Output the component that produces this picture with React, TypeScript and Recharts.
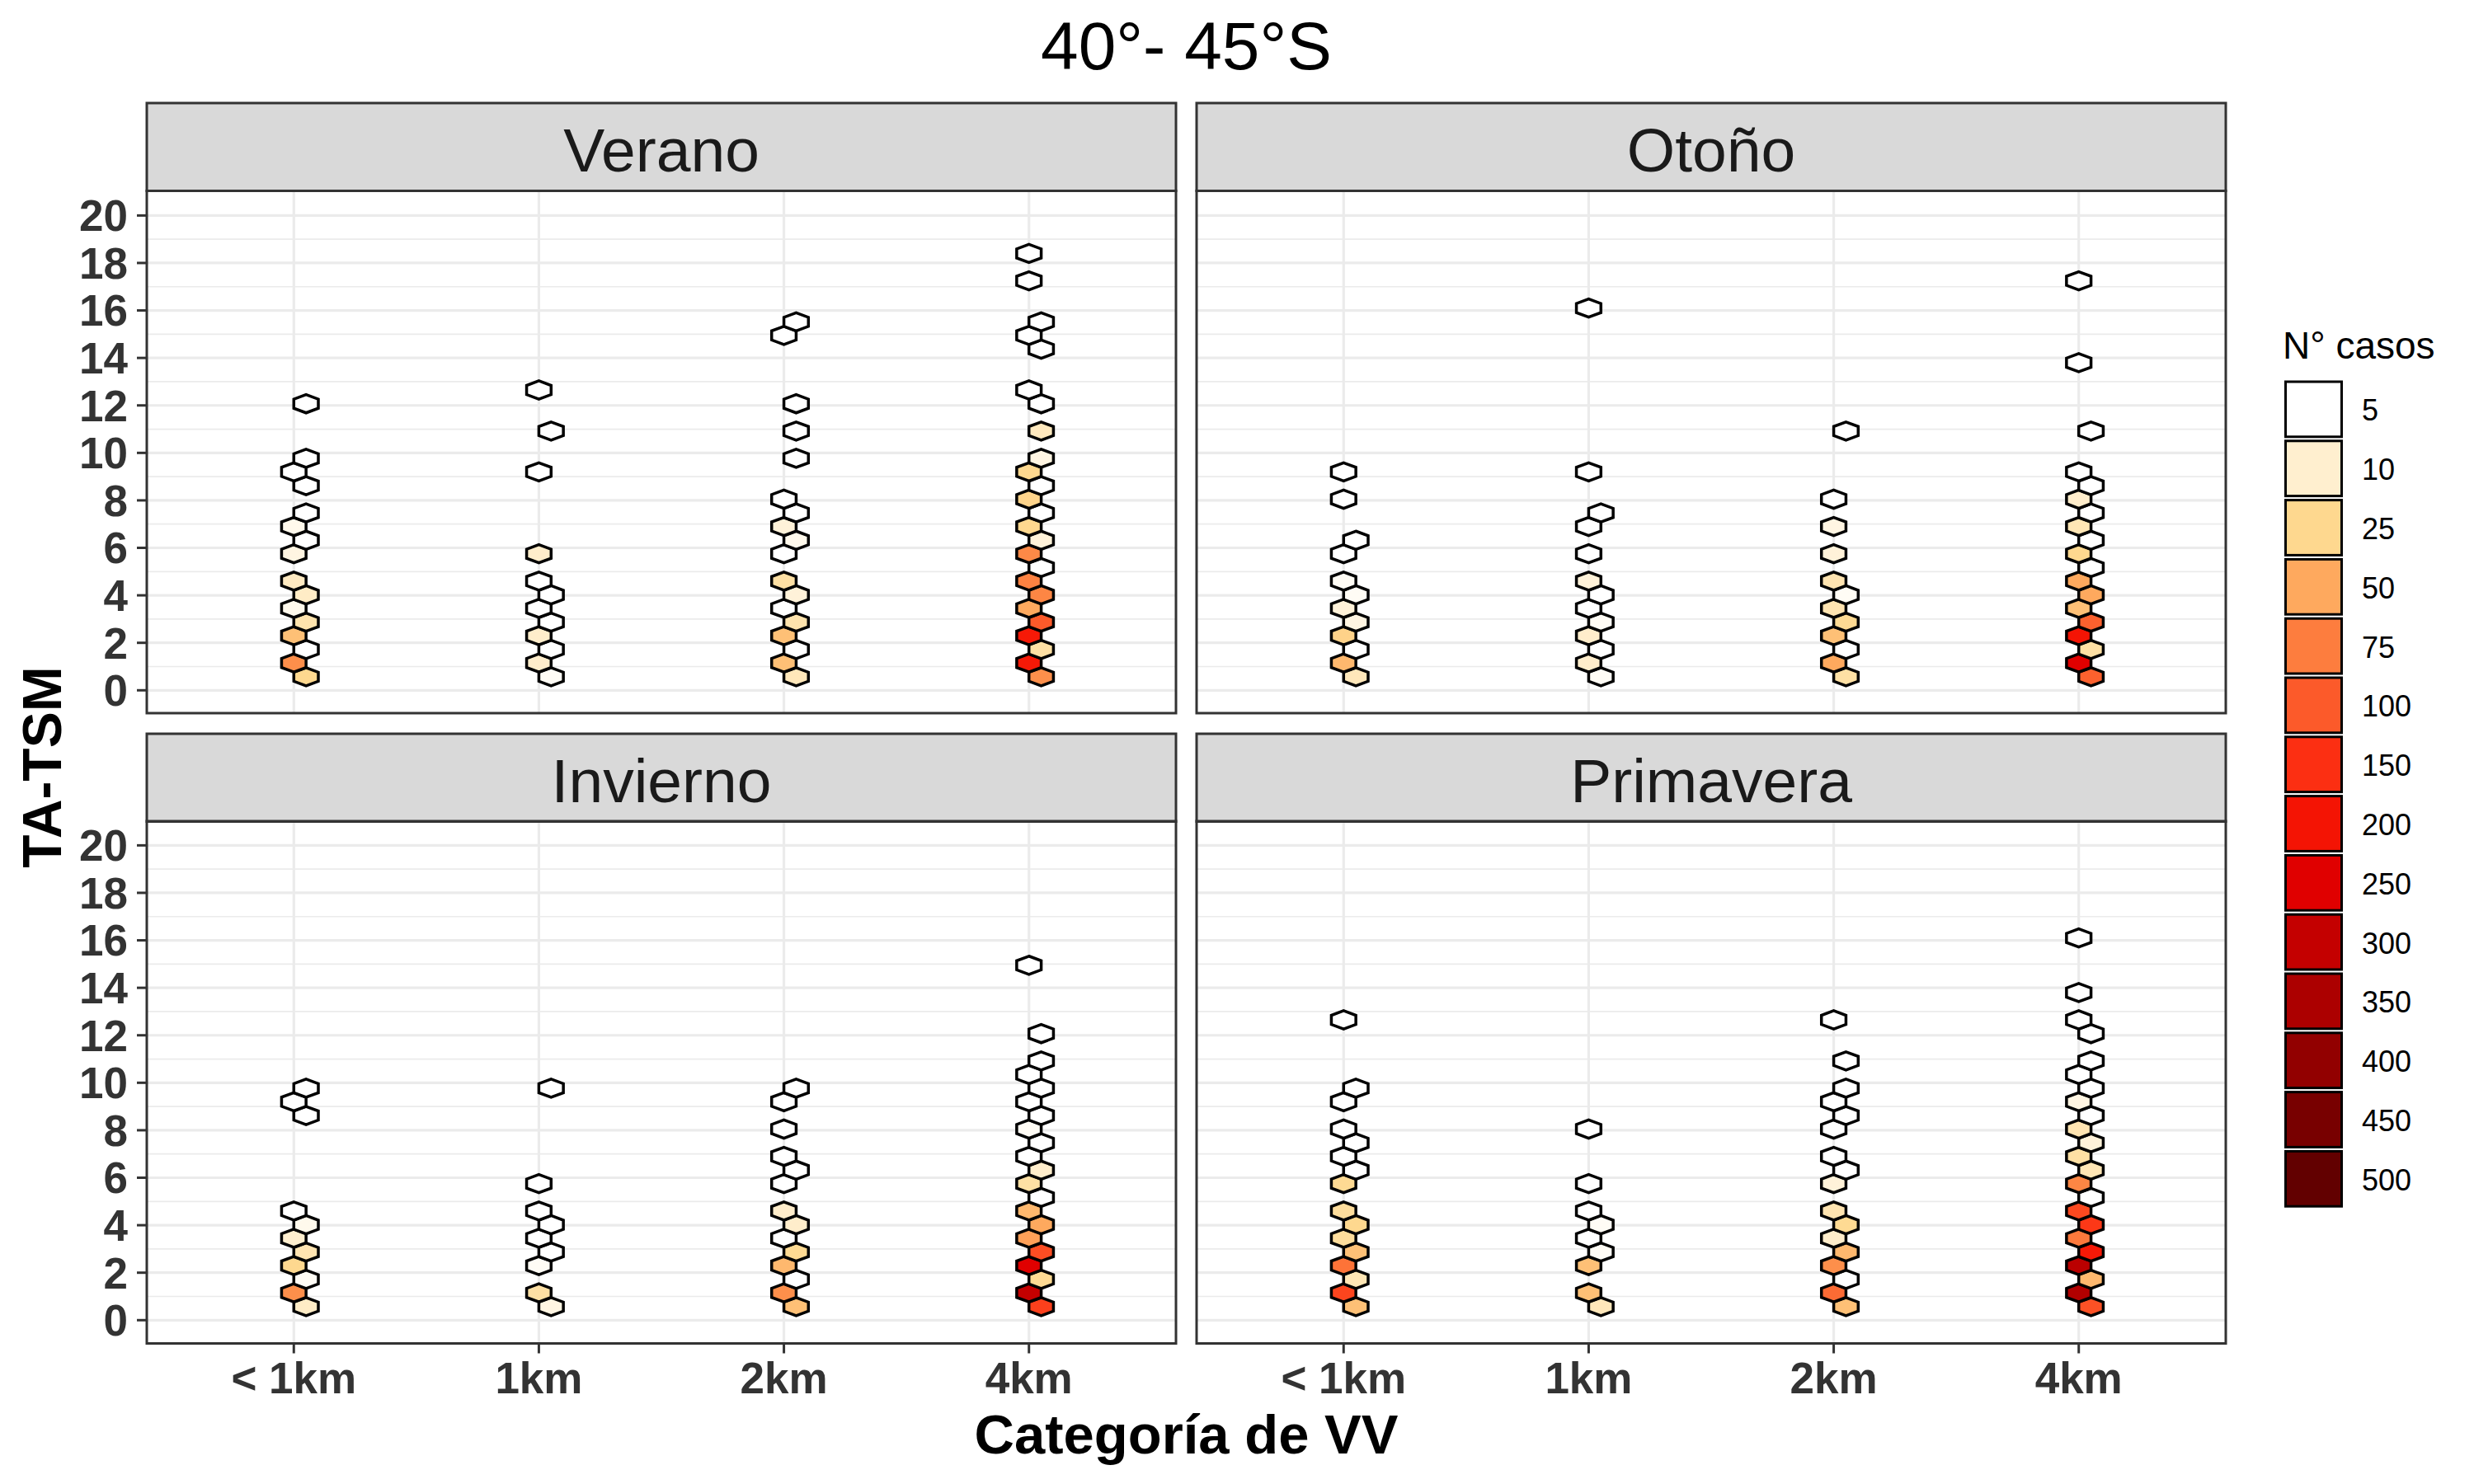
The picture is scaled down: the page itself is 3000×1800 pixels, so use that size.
import { ScatterChart, Scatter, XAxis, YAxis, CartesianGrid } from "recharts";

// categories of visibility and the y axis breaks
const CATEGORIES = ["< 1km", "1km", "2km", "4km"];
const SEASONS = ["Verano", "Otoño", "Invierno", "Primavera"];
const Y_TICKS = [0, 2, 4, 6, 8, 10, 12, 14, 16, 18, 20];
const Y_MINOR = [1, 3, 5, 7, 9, 11, 13, 15, 17, 19];

// legend: N° casos
const LEGEND_BREAKS = [5, 10, 25, 50, 75, 100, 150, 200, 250, 300, 350, 400, 450, 500];
const LEGEND_COLORS = [
  "#FFFFFF", "#FFEFCF", "#FED88F", "#FEA95E", "#FD7D3E", "#FC5A2A", "#FC2F12",
  "#F41404", "#E00000", "#C40000", "#AC0000", "#920000", "#780000", "#620000",
];

// hexbin cells: [x centre, y centre, count]
const verano: [number, number, number][] = [
  [1.05, 0.57, 25], [1, 1.15, 65], [1.05, 1.72, 3], [1, 2.3, 38], [1.05, 2.87, 18], [1, 3.45, 7],
  [1.05, 4.02, 12], [1, 4.6, 13], [1, 5.75, 8], [1.05, 6.32, 3], [1, 6.9, 7], [1.05, 7.47, 3],
  [1.05, 8.62, 3], [1, 9.2, 3], [1.05, 9.77, 3], [1.05, 12.07, 3],
  [2.05, 0.57, 6], [2, 1.15, 11], [2.05, 1.72, 3], [2, 2.3, 11], [2.05, 2.87, 3], [2, 3.45, 3],
  [2.05, 4.02, 3], [2, 4.6, 3], [2, 5.75, 11], [2, 9.2, 3], [2.05, 10.92, 3], [2, 12.65, 3],
  [3.05, 0.57, 15], [3, 1.15, 38], [3.05, 1.72, 3], [3, 2.3, 38], [3.05, 2.87, 18], [3, 3.45, 4],
  [3.05, 4.02, 9], [3, 4.6, 20], [3, 5.75, 3], [3.05, 6.32, 7], [3, 6.9, 9], [3.05, 7.47, 3],
  [3, 8.05, 3], [3.05, 9.77, 3], [3.05, 10.92, 3], [3.05, 12.07, 3], [3, 14.95, 3], [3.05, 15.52, 3],
  [4.05, 0.57, 65], [4, 1.15, 190], [4.05, 1.72, 20], [4, 2.3, 190], [4.05, 2.87, 100], [4, 3.45, 50],
  [4.05, 4.02, 70], [4, 4.6, 72], [4.05, 5.17, 3], [4, 5.75, 68], [4.05, 6.32, 9], [4, 6.9, 25],
  [4.05, 7.47, 3], [4, 8.05, 27], [4.05, 8.62, 3], [4, 9.2, 25], [4.05, 9.77, 8], [4.05, 10.92, 14],
  [4.05, 12.07, 3], [4, 12.65, 3], [4.05, 14.37, 3], [4, 14.95, 3], [4.05, 15.52, 3], [4, 17.25, 3],
  [4, 18.4, 3],
];

const otono: [number, number, number][] = [
  [1.05, 0.57, 15], [1, 1.15, 42], [1.05, 1.72, 3], [1, 2.3, 28], [1.05, 2.87, 8], [1, 3.45, 9],
  [1.05, 4.02, 6], [1, 4.6, 6], [1, 5.75, 3], [1.05, 6.32, 3], [1, 8.05, 3], [1, 9.2, 3],
  [2.05, 0.57, 6], [2, 1.15, 11], [2.05, 1.72, 3], [2, 2.3, 11], [2.05, 2.87, 6], [2, 3.45, 3],
  [2.05, 4.02, 3], [2, 4.6, 9], [2, 5.75, 3], [2, 6.9, 3], [2.05, 7.47, 3], [2, 9.2, 3], [2, 16.1, 3],
  [3.05, 0.57, 20], [3, 1.15, 50], [3.05, 1.72, 3], [3, 2.3, 38], [3.05, 2.87, 24], [3, 3.45, 17],
  [3.05, 4.02, 6], [3, 4.6, 17], [3, 5.75, 9], [3, 6.9, 8], [3, 8.05, 3], [3.05, 10.92, 3],
  [4.05, 0.57, 95], [4, 1.15, 250], [4.05, 1.72, 20], [4, 2.3, 200], [4.05, 2.87, 95], [4, 3.45, 38],
  [4.05, 4.02, 50], [4, 4.6, 50], [4.05, 5.17, 3], [4, 5.75, 25], [4.05, 6.32, 3], [4, 6.9, 16],
  [4.05, 7.47, 3], [4, 8.05, 11], [4.05, 8.62, 3], [4, 9.2, 3], [4.05, 10.92, 3], [4, 13.8, 3],
  [4, 17.25, 3],
];

const invierno: [number, number, number][] = [
  [1.05, 0.57, 12], [1, 1.15, 65], [1.05, 1.72, 6], [1, 2.3, 25], [1.05, 2.87, 17], [1, 3.45, 10],
  [1.05, 4.02, 7], [1, 4.6, 3], [1.05, 8.62, 3], [1, 9.2, 3], [1.05, 9.77, 3],
  [2.05, 0.57, 8], [2, 1.15, 20], [2, 2.3, 6], [2.05, 2.87, 3], [2, 3.45, 3], [2.05, 4.02, 3],
  [2, 4.6, 3], [2, 5.75, 3], [2.05, 9.77, 3],
  [3.05, 0.57, 38], [3, 1.15, 65], [3.05, 1.72, 3], [3, 2.3, 42], [3.05, 2.87, 24], [3, 3.45, 3],
  [3.05, 4.02, 11], [3, 4.6, 11], [3, 5.75, 3], [3.05, 6.32, 3], [3, 6.9, 3], [3, 8.05, 3],
  [3, 9.2, 3], [3.05, 9.77, 3],
  [4.05, 0.57, 130], [4, 1.15, 300], [4.05, 1.72, 24], [4, 2.3, 250], [4.05, 2.87, 115], [4, 3.45, 55],
  [4.05, 4.02, 50], [4, 4.6, 42], [4.05, 5.17, 3], [4, 5.75, 20], [4.05, 6.32, 11], [4, 6.9, 3],
  [4.05, 7.47, 3], [4, 8.05, 6], [4.05, 8.62, 3], [4, 9.2, 3], [4.05, 9.77, 3], [4, 10.35, 3],
  [4.05, 10.92, 3], [4.05, 12.07, 3], [4, 14.95, 3],
];

const primavera: [number, number, number][] = [
  [1.05, 0.57, 38], [1, 1.15, 125], [1.05, 1.72, 16], [1, 2.3, 82], [1.05, 2.87, 38], [1, 3.45, 22],
  [1.05, 4.02, 25], [1, 4.6, 22], [1, 5.75, 24], [1.05, 6.32, 3], [1, 6.9, 3], [1.05, 7.47, 3],
  [1, 8.05, 3], [1, 9.2, 3], [1.05, 9.77, 3], [1, 12.65, 3],
  [2.05, 0.57, 15], [2, 1.15, 38], [2, 2.3, 38], [2.05, 2.87, 6], [2, 3.45, 3], [2.05, 4.02, 6],
  [2, 4.6, 3], [2, 5.75, 3], [2, 8.05, 3],
  [3.05, 0.57, 38], [3, 1.15, 88], [3.05, 1.72, 3], [3, 2.3, 65], [3.05, 2.87, 42], [3, 3.45, 11],
  [3.05, 4.02, 24], [3, 4.6, 17], [3, 5.75, 9], [3.05, 6.32, 3], [3, 6.9, 3], [3, 8.05, 3],
  [3.05, 8.62, 3], [3, 9.2, 3], [3.05, 9.77, 3], [3.05, 10.92, 3], [3, 12.65, 3],
  [4.05, 0.57, 110], [4, 1.15, 340], [4.05, 1.72, 42], [4, 2.3, 320], [4.05, 2.87, 190], [4, 3.45, 78],
  [4.05, 4.02, 140], [4, 4.6, 120], [4.05, 5.17, 3], [4, 5.75, 70], [4.05, 6.32, 16], [4, 6.9, 20],
  [4.05, 7.47, 9], [4, 8.05, 17], [4.05, 8.62, 3], [4, 9.2, 8], [4.05, 9.77, 3], [4, 10.35, 3],
  [4.05, 10.92, 3], [4.05, 12.07, 3], [4, 12.65, 3], [4, 13.8, 3], [4, 16.1, 3],
];

const PANEL_DATA = [verano, otono, invierno, primavera];

// layout (px)
const FONT = "'Liberation Sans', Arial, Helvetica, sans-serif";
const PANEL_X = [178, 1451];
const PANEL_Y = [231.5, 996];
const STRIP_Y = [125, 890];
const STRIP_H = 106.5;
const PANEL_W = 1248;
const PANEL_H = 633.5;
const Y_AXIS_W = 178;
const X_AXIS_H = 130;
const X_DOMAIN: [number, number] = [0.4, 4.6];
const Y_DOMAIN: [number, number] = [-0.98, 21.02];

// hex bin size in data units
const BIN_W = 0.1;
const BIN_H = 0.767;
const HEX_W = (BIN_W * PANEL_W) / (X_DOMAIN[1] - X_DOMAIN[0]);
const HEX_H = (BIN_H * PANEL_H) / (Y_DOMAIN[1] - Y_DOMAIN[0]);

function hexToRgb(h: string) {
  const v = parseInt(h.slice(1), 16);
  return [(v >> 16) & 255, (v >> 8) & 255, v & 255];
}

function mix(a: string, b: string, t: number) {
  const ca = hexToRgb(a);
  const cb = hexToRgb(b);
  const c = ca.map((v, i) => Math.round(v + (cb[i] - v) * t));
  return `rgb(${c[0]},${c[1]},${c[2]})`;
}

function fillFor(n: number) {
  if (n <= LEGEND_BREAKS[0]) return LEGEND_COLORS[0];
  for (let i = 1; i < LEGEND_BREAKS.length; i++) {
    if (n <= LEGEND_BREAKS[i]) {
      const t = (n - LEGEND_BREAKS[i - 1]) / (LEGEND_BREAKS[i] - LEGEND_BREAKS[i - 1]);
      return mix(LEGEND_COLORS[i - 1], LEGEND_COLORS[i], t);
    }
  }
  return LEGEND_COLORS[LEGEND_COLORS.length - 1];
}

function HexShape(props: any) {
  const { cx, cy, payload } = props;
  if (cx == null || cy == null) return null;
  const hw = HEX_W / 2;
  const hh = HEX_H / 2;
  const q = HEX_H / 4;
  const d = `M${cx},${cy - hh}L${cx + hw},${cy - q}L${cx + hw},${cy + q}L${cx},${cy + hh}L${cx - hw},${cy + q}L${cx - hw},${cy - q}Z`;
  return <path d={d} fill={fillFor(payload.n)} stroke="#000000" strokeWidth={3.5} strokeLinejoin="miter" />;
}

const tickStyle = { fill: "#333333", fontSize: 53, fontWeight: 700, fontFamily: FONT };

function Panel({ index }: { index: number }) {
  const col = index % 2;
  const row = Math.floor(index / 2);
  const showY = col === 0;
  const showX = row === 1;
  const yw = showY ? Y_AXIS_W : 0;
  const xh = showX ? X_AXIS_H : 0;
  const data = PANEL_DATA[index].map(([x, y, n]) => ({ x, y, n }));
  const xTicks = CATEGORIES.map((_, i) => i + 1);

  return (
    <div style={{ position: "absolute", left: PANEL_X[col] - yw, top: PANEL_Y[row] }}>
      <ScatterChart width={PANEL_W + yw} height={PANEL_H + xh} margin={{ top: 0, right: 0, bottom: 0, left: 0 }}>
        <CartesianGrid horizontalValues={Y_MINOR} vertical={false} stroke="#EBEBEB" strokeWidth={1.7} />
        <CartesianGrid horizontalValues={Y_TICKS} verticalValues={xTicks} stroke="#EBEBEB" strokeWidth={3.2} />
        <XAxis
          type="number"
          dataKey="x"
          domain={X_DOMAIN}
          ticks={xTicks}
          interval={0}
          allowDataOverflow
          hide={!showX}
          height={X_AXIS_H}
          tickFormatter={(v) => CATEGORIES[Math.round(v) - 1]}
          tick={tickStyle}
          tickLine={{ stroke: "#333333", strokeWidth: 3 }}
          axisLine={false}
          tickSize={12}
          tickMargin={11}
        />
        <YAxis
          type="number"
          dataKey="y"
          domain={Y_DOMAIN}
          ticks={Y_TICKS}
          interval={0}
          allowDataOverflow
          hide={!showY}
          width={Y_AXIS_W}
          tick={tickStyle}
          tickLine={{ stroke: "#333333", strokeWidth: 3 }}
          axisLine={false}
          tickSize={12}
          tickMargin={11}
        />
        <Scatter data={data} shape={HexShape} isAnimationActive={false} />
      </ScatterChart>
    </div>
  );
}

const KEY_TOP = 461.5;
const KEY_STEP = 71.8;

export default function App() {
  const plotLeft = PANEL_X[0];
  const plotRight = PANEL_X[1] + PANEL_W;
  const centreX = (plotLeft + plotRight) / 2;

  return (
    <div style={{ position: "absolute", left: 0, top: 0, width: 3000, height: 1800, background: "#ffffff", fontFamily: FONT }}>
      {SEASONS.map((_, i) => (
        <Panel key={i} index={i} />
      ))}
      <svg width={3000} height={1800} style={{ position: "absolute", left: 0, top: 0, pointerEvents: "none" }}>
        <text x={centreX} y={84} textAnchor="middle" fontSize={82} fill="#000000" fontFamily={FONT}>
          40°- 45°S
        </text>

        {SEASONS.map((s, i) => {
          const col = i % 2;
          const row = Math.floor(i / 2);
          const x = PANEL_X[col];
          return (
            <g key={s}>
              <rect x={x} y={STRIP_Y[row]} width={PANEL_W} height={STRIP_H} fill="#D9D9D9" stroke="#333333" strokeWidth={3} />
              <text x={x + PANEL_W / 2} y={STRIP_Y[row] + STRIP_H / 2 + 30} textAnchor="middle" fontSize={75} fill="#1A1A1A" fontFamily={FONT}>
                {s}
              </text>
              <rect x={x} y={PANEL_Y[row]} width={PANEL_W} height={PANEL_H} fill="none" stroke="#333333" strokeWidth={3} />
            </g>
          );
        })}

        <text x={centreX} y={1763} textAnchor="middle" fontSize={67} fontWeight={700} fill="#000000" fontFamily={FONT}>
          Categoría de VV
        </text>
        <text
          x={0}
          y={0}
          transform={`translate(74, ${(PANEL_Y[0] + PANEL_Y[1] + PANEL_H) / 2}) rotate(-90)`}
          textAnchor="middle"
          fontSize={66}
          fontWeight={700}
          fill="#000000"
          fontFamily={FONT}
        >
          TA-TSM
        </text>

        <text x={2768} y={434.5} fontSize={46} fill="#000000" fontFamily={FONT}>
          N° casos
        </text>
        {LEGEND_BREAKS.map((b, i) => {
          const top = KEY_TOP + i * KEY_STEP;
          return (
            <g key={b}>
              <rect x={2771.5} y={top + 1.5} width={68} height={KEY_STEP - 5} fill={LEGEND_COLORS[i]} stroke="#000000" strokeWidth={3} />
              <text x={2864} y={top + KEY_STEP / 2 + 12.9} fontSize={36} fill="#000000" fontFamily={FONT}>
                {b}
              </text>
            </g>
          );
        })}
      </svg>
    </div>
  );
}
